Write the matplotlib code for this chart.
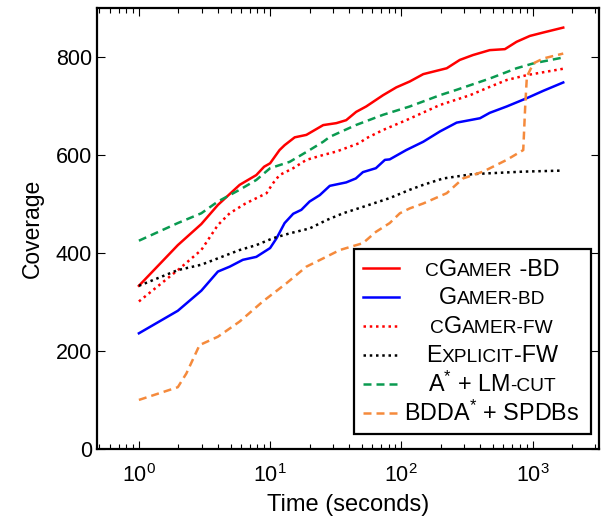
import numpy as np
import matplotlib
matplotlib.use("Agg")
import matplotlib.pyplot as plt
from matplotlib.lines import Line2D
from matplotlib.patches import Rectangle
from matplotlib.ticker import LogLocator, NullFormatter, MultipleLocator

plt.rcParams["font.family"] = ["Liberation Sans", "DejaVu Sans"]
plt.rcParams["mathtext.fontset"] = "custom"
plt.rcParams["mathtext.rm"] = "Liberation Sans"
plt.rcParams["mathtext.it"] = "Liberation Sans:italic"
plt.rcParams["mathtext.default"] = "regular"

# 覆盖率随时间变化 (每条曲线: 时间 s, 已解决实例数)
cgamer_bd_t = [1, 1.98, 2.99, 4.0, 5.86, 7.85, 9.0, 10, 11.8, 12.9, 15.4, 18.9, 25.4, 32, 38,
               45.3, 54, 72.6, 91.6, 116, 147, 222, 279, 352, 472, 616, 756, 955, 1209, 1715]
cgamer_bd_y = [333, 416, 459, 498, 539, 559, 576, 583, 610, 620, 636, 641, 661, 665, 671,
               688, 699, 722, 738, 750, 765, 777, 794, 804, 814, 816, 831, 843, 850, 860]

gamer_bd_t = [1, 1.98, 2.99, 4.0, 4.92, 6.2, 7.85, 10, 11.2, 12.9, 15, 17.3, 20, 23.9, 28.5,
              38, 45, 51, 64, 75, 81.6, 109, 147, 197, 264, 398, 472, 636, 906, 1209, 1715]
gamer_bd_y = [236, 282, 323, 362, 372, 386, 392, 410, 430, 461, 480, 488, 505, 518, 537,
              544, 552, 565, 573, 590, 591, 610, 627, 648, 666, 675, 686, 699, 716, 731, 748]

cgamer_fw_t = [1, 1.98, 2.99, 4.0, 4.92, 6.5, 9.4, 10.5, 11.8, 15, 18.9, 25.4, 32, 47.7, 54,
               72.6, 109, 197, 334, 472, 636, 906, 1715]
cgamer_fw_y = [301, 365, 406, 457, 481, 501, 522, 542, 559, 573, 590, 600, 607, 624, 634,
               651, 671, 702, 722, 739, 753, 763, 776]

explicit_fw_t = [1, 1.98, 2.99, 4.0, 5.86, 7.85, 10.5, 14.1, 20, 26.9, 36, 51, 81.6, 116, 147,
                 208, 352, 850, 1620]
explicit_fw_y = [333, 365, 376, 389, 406, 416, 430, 440, 450, 467, 481, 494, 512, 529, 539,
                 552, 561, 566, 568]

astar_lmcut_t = [1, 1.98, 2.99, 4.0, 5.86, 7.85, 10, 14.1, 20, 25.4, 28.5, 45, 72.6, 116, 197,
                 264, 472, 756, 1016, 1715]
astar_lmcut_y = [425, 461, 481, 505, 529, 549, 573, 586, 610, 627, 637, 661, 682, 699, 722,
                 733, 756, 777, 787, 799]

bdda_spdb_t = [1, 1.98, 2.3, 2.9, 4.0, 5.86, 8.8, 13.3, 18.9, 25.4, 34, 51, 64, 81.6, 97.5,
               116, 147, 222, 295, 420, 636, 850, 880, 906, 1016, 1209, 1715]
bdda_spdb_y = [100, 126, 154, 212, 229, 260, 301, 338, 372, 389, 406, 420, 443, 461, 481,
               491, 501, 522, 552, 566, 590, 610, 700, 760, 787, 797, 807]

LW = 1.8
DASHED = (0, (3.2, 2.0))
DOTTED = (0, (1.0, 1.5))
GREEN = "#0a9a50"
ORANGE = "#f58a3c"

series = [
    (cgamer_bd_t, cgamer_bd_y, "#ff0000", "-"),
    (gamer_bd_t, gamer_bd_y, "#0000ff", "-"),
    (cgamer_fw_t, cgamer_fw_y, "#ff0000", DOTTED),
    (explicit_fw_t, explicit_fw_y, "#000000", DOTTED),
    (astar_lmcut_t, astar_lmcut_y, GREEN, DASHED),
    (bdda_spdb_t, bdda_spdb_y, ORANGE, DASHED),
]

# 图例文字: (片段, 字号), 小字号片段模拟小型大写
BIG, SMALL = 16.8, 13.8
legend_labels = [
    [("C", SMALL), ("G", BIG), ("AMER", SMALL), (" -BD", BIG)],
    [("G", BIG), ("AMER-BD", SMALL)],
    [("C", SMALL), ("G", BIG), ("AMER-FW", SMALL)],
    [("E", BIG), ("XPLICIT", SMALL), ("-FW", BIG)],
    [("A$^{*}$ + LM", BIG), ("-CUT", SMALL)],
    [("BDDA$^{*}$ + SPDBs", BIG)],
]

fig = plt.figure(figsize=(6.03, 5.16), dpi=100)
ax = fig.add_axes([0.161, 0.13, 0.832, 0.8545])

for t, y, c, ls in series:
    ax.plot(t, y, color=c, linestyle=ls, linewidth=LW)

ax.set_xscale("log")
ax.set_xlim(0.48, 3200)
ax.set_ylim(0, 900)
ax.yaxis.set_major_locator(MultipleLocator(200))
ax.xaxis.set_major_locator(LogLocator(base=10, numticks=10))
ax.xaxis.set_minor_locator(LogLocator(base=10, subs=np.arange(2, 10), numticks=20))
ax.xaxis.set_minor_formatter(NullFormatter())
ax.tick_params(which="both", direction="in", top=True, right=True, labelsize=15.5, width=0.8)
ax.tick_params(which="major", length=6)
ax.tick_params(which="minor", length=3.5)
ax.tick_params(axis="x", pad=11)
for sp in ax.spines.values():
    sp.set_linewidth(1.6)
ax.set_xlabel("Time (seconds)", fontsize=17, labelpad=5)
ax.set_ylabel("Coverage", fontsize=16.5, labelpad=9)

# 图例: 手动绘制, 以支持小型大写字母
fig.canvas.draw()
renderer = fig.canvas.get_renderer()
axw, axh = ax.bbox.width, ax.bbox.height
ax.add_patch(Rectangle((0.512, 0.034), 0.472, 0.4195, transform=ax.transAxes,
                       facecolor="white", edgecolor="black", linewidth=1.6, zorder=5))
row_y = [268.3, 296.7, 326.0, 355.0, 384.0, 413.3]
for (t, y, c, ls), pieces, py in zip(series, legend_labels, row_y):
    yf = (449 - py) / axh
    ax.add_line(Line2D([(362.7 - 97) / axw, (399.3 - 97) / axw], [yf, yf], color=c,
                       linestyle=ls, linewidth=LW, transform=ax.transAxes, zorder=6))
    yb = (449 - py - 7.5) / axh
    texts, widths = [], []
    for s, size in pieces:
        txt = ax.text(0, yb, s, fontsize=size, transform=ax.transAxes,
                      ha="left", va="baseline", zorder=6)
        texts.append(txt)
        widths.append(txt.get_window_extent(renderer).width / axw)
    x0 = (492 - 97) / axw - sum(widths) / 2
    for txt, w in zip(texts, widths):
        txt.set_x(x0)
        x0 += w

fig.savefig("out.png", dpi=100)
